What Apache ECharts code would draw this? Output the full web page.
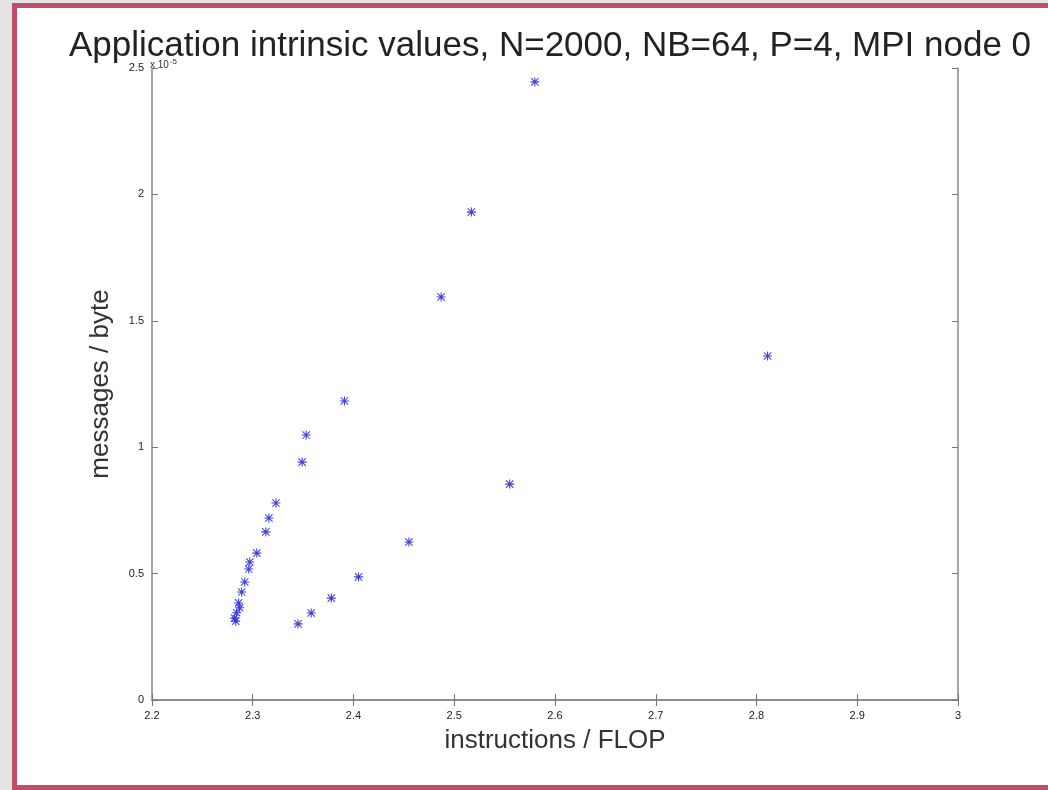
<!DOCTYPE html>
<html>
<head>
<meta charset="utf-8">
<script src="https://cdn.jsdelivr.net/npm/echarts@6/dist/echarts.min.js"></script>
<style>
  body { margin: 0; background: #e3e3e3; }
  #frame { position: absolute; left: 12px; top: 3px; width: 1048px; height: 777px;
           border: 5px solid #bf4f69; border-right: none; background: #fff; }
  #chart { position: absolute; left: 0; top: 0; width: 1048px; height: 790px; }
</style>
</head>
<body>
<div id="frame"></div>
<div id="chart"></div>
<script>
// instructions / FLOP  vs  messages / byte (scaled)
var xVals = [2.282, 2.286, 2.289, 2.292, 2.296, 2.297, 2.304, 2.313, 2.316, 2.323,
             2.349, 2.353, 2.391, 2.345, 2.358, 2.378, 2.405, 2.455, 2.555, 2.487,
             2.517, 2.580, 2.811, 2.283, 2.284, 2.287];
var yVals = [0.324, 0.384, 0.427, 0.467, 0.518, 0.546, 0.581, 0.665, 0.720, 0.779,
             0.941, 1.048, 1.183, 0.301, 0.344, 0.403, 0.487, 0.625, 0.854, 1.594,
             1.930, 2.445, 1.361, 0.312, 0.345, 0.365];
var xTicks = [2.2, 2.3, 2.4, 2.5, 2.6, 2.7, 2.8, 2.9, 3];
var yTicks = [0, 0.5, 1, 1.5, 2, 2.5];

var points = xVals.map(function (x, i) { return [x, yVals[i]]; });

var starPath = 'path://M4.4 0L5.6 0L5.6 10L4.4 10Z M0 4.4L10 4.4L10 5.6L0 5.6Z ' +
  'M1.3 0.5L9.5 8.7L8.7 9.5L0.5 1.3Z M8.7 0.5L9.5 1.3L1.3 9.5L0.5 8.7Z';

var font = 'Liberation Sans, Arial, sans-serif';
var axisLine = { lineStyle: { color: '#888', width: 1.5 } };
var tick = { inside: true, length: 6, lineStyle: { color: '#777' } };

var myChart = echarts.init(document.getElementById('chart'));
myChart.setOption({
  backgroundColor: 'transparent',
  animation: false,
  title: {
    text: 'Application intrinsic values, N=2000, NB=64, P=4, MPI node 0',
    left: 64, top: 24,
    textStyle: { fontFamily: font, fontSize: 35, fontWeight: 'normal', color: '#222' }
  },
  grid: { left: 152, top: 68, right: 90, bottom: 90 },
  graphic: [{
    type: 'text', left: 150, top: 58,
    style: {
      text: '{a|x 10}{b|-5}',
      rich: {
        a: { fontFamily: font, fontSize: 10, fill: '#333' },
        b: { fontFamily: font, fontSize: 8, fill: '#333', verticalAlign: 'top', padding: [0, 0, 6, 1] }
      }
    }
  }],
  xAxis: [{
    type: 'value', min: 2.2, max: 3, interval: 0.1,
    name: 'instructions / FLOP', nameLocation: 'middle', nameGap: 28,
    nameTextStyle: { fontFamily: font, fontSize: 26, color: '#333' },
    axisLine: axisLine, axisTick: tick, splitLine: { show: false },
    axisLabel: { fontFamily: font, fontSize: 11, color: '#222', margin: 10,
      formatter: function (v) { return xTicks.indexOf(+v.toFixed(1)) >= 0 ? String(+v.toFixed(1)) : ''; } }
  }, {
    type: 'value', min: 2.2, max: 3, interval: 0.1, position: 'top',
    axisLine: axisLine, axisTick: tick, axisLabel: { show: false }, splitLine: { show: false }
  }],
  yAxis: [{
    type: 'value', min: 0, max: 2.5, interval: 0.5,
    name: 'messages / byte', nameLocation: 'middle', nameGap: 38,
    nameTextStyle: { fontFamily: font, fontSize: 26, color: '#333' },
    axisLine: axisLine, axisTick: tick, splitLine: { show: false },
    axisLabel: { fontFamily: font, fontSize: 11, color: '#222', margin: 8,
      formatter: function (v) { return yTicks.indexOf(+v.toFixed(1)) >= 0 ? String(+v.toFixed(1)) : ''; } }
  }, {
    type: 'value', min: 0, max: 2.5, interval: 0.5, position: 'right',
    axisLine: axisLine, axisTick: tick, axisLabel: { show: false }, splitLine: { show: false }
  }],
  series: [{
    type: 'scatter',
    xAxisIndex: 0, yAxisIndex: 0,
    symbol: starPath, symbolSize: 9,
    itemStyle: { color: '#2a2ad8', opacity: 0.9 },
    data: points
  }]
});
</script>
</body>
</html>
